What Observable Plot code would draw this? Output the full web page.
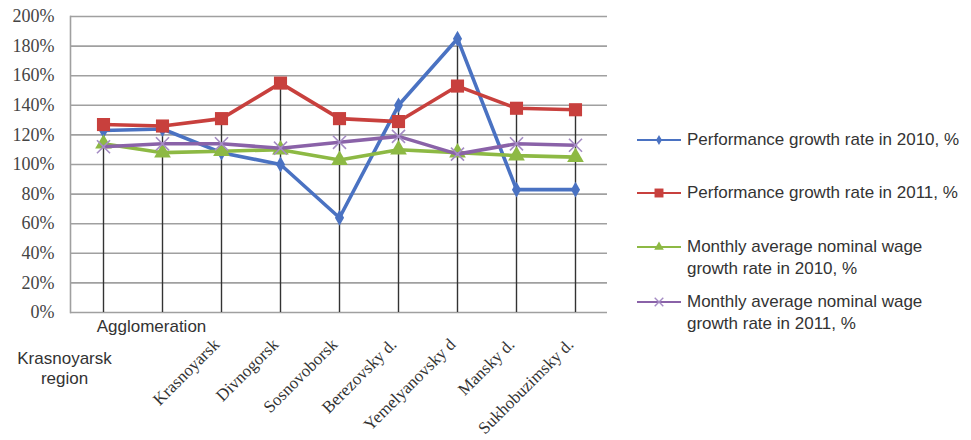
<!DOCTYPE html>
<html><head><meta charset="utf-8">
<script src="https://cdn.jsdelivr.net/npm/d3@7"></script>
<script src="https://cdn.jsdelivr.net/npm/@observablehq/plot@0.6"></script>
<style>
body{margin:0;background:#fff;}
#wrap{position:relative;width:971px;height:440px;overflow:hidden;}
#chart{position:absolute;left:0;top:0;}
#legend{position:absolute;left:0;top:0;width:971px;height:440px;font-family:"Liberation Sans",Arial,sans-serif;font-size:17px;color:#333;}
.item{position:absolute;left:635px;display:flex;align-items:flex-start;white-space:nowrap;line-height:22px;}
.item svg{flex:none;margin-right:6px;}
</style></head><body>
<div id="wrap"><div id="chart"></div><div id="legend"></div></div>
<script>
const categories = ["Krasnoyarsk region","Agglomeration","Krasnoyarsk","Divnogorsk","Sosnovoborsk","Berezovsky d.","Yemelyanovsky d","Mansky d.","Sukhobuzimsky d."];
const perf2010 = [123,124,108,100,64,140,185,83,83];
const perf2011 = [127,126,131,155,131,129,153,138,137];
const wage2010 = [114,108,109,110,103,110,108,106,105];
const wage2011 = [112,114,114,111,115,119,107,114,113];
const yTicks = [0,20,40,60,80,100,120,140,160,180,200];
const seriesNames = ["Performance growth rate in 2010, %","Performance growth rate in 2011, %","Monthly average nominal wage\ngrowth rate in 2010, %","Monthly average nominal wage\ngrowth rate in 2011, %"];
const seriesColors = ["#4A72C2","#C8403D","#8DB944","#8A62A8"];
const markerColors = ["#4A72C2","#C8403D","#8DB944","#A58CC4"];
const symbols = ["diamond","square","triangle","times"];
const symbolR = [4.8,7.4,6.2,6];

const allSeries = [perf2010, perf2011, wage2010, wage2011];
const rows = [];
allSeries.forEach((vals, s) => vals.forEach((v, i) => rows.push({cat: categories[i], value: v, s})));
const maxRows = categories.map((c, i) => ({cat: c, value: d3.max(allSeries, a => a[i])}));

const serifFont = "'Liberation Serif','Times New Roman',serif";
const sansFont = "'Liberation Sans',Arial,sans-serif";

const marks = [
  Plot.ruleY(yTicks, {y: d => d, stroke: "#a0a0a0", strokeWidth: 1.6}),
  Plot.frame({anchor: "left", stroke: "#a0a0a0", strokeWidth: 1.6}),
  Plot.ruleX(maxRows, {x: "cat", y1: 0, y2: "value", stroke: "#333", strokeWidth: 1.4}),
  Plot.text(yTicks, {y: d => d, frameAnchor: "left", dx: -16, textAnchor: "end", text: d => d + "%", fontFamily: serifFont, fontSize: 18, fill: "#444"})
];
allSeries.forEach((vals, s) => {
  const data = rows.filter(r => r.s === s);
  marks.push(Plot.line(data, {x: "cat", y: "value", stroke: seriesColors[s], strokeWidth: 3.6}));
  if (symbols[s] === "times") {
    marks.push(Plot.dot(data, {x: "cat", y: "value", symbol: "times", r: symbolR[s], stroke: markerColors[s], strokeWidth: 1.6}));
  } else {
    marks.push(Plot.dot(data, {x: "cat", y: "value", symbol: symbols[s], r: symbolR[s], fill: markerColors[s], stroke: "none"}));
  }
});
// category labels
marks.push(Plot.text([categories[1]], {x: d => d, frameAnchor: "bottom", dy: 14, dx: -11, text: d => d, fontFamily: sansFont, fontSize: 17, fill: "#333", lineAnchor: "middle"}));
marks.push(Plot.text([categories[0]], {x: d => d, frameAnchor: "bottom", dy: 55, dx: -39, text: d => d.replace(" ", "\n"), fontFamily: sansFont, fontSize: 17, fill: "#333", lineAnchor: "middle", lineHeight: 1.15}));
marks.push(Plot.text(categories.slice(2), {x: d => d, frameAnchor: "bottom", dy: 33, dx: -1, text: d => d, rotate: -45, textAnchor: "end", fontFamily: serifFont, fontSize: 17, fill: "#333"}));

const chart = Plot.plot({
  width: 620, height: 440,
  marginLeft: 70, marginRight: 13, marginTop: 16, marginBottom: 128,
  x: {type: "point", domain: categories, padding: 0.5, axis: null},
  y: {domain: [0, 200], axis: null},
  style: {background: "#fff", overflow: "visible"},
  marks
});
document.getElementById("chart").appendChild(chart);

// legend
const legend = document.getElementById("legend");
const tops = [129, 182, 236, 291];
seriesNames.forEach((name, s) => {
  const item = document.createElement("div");
  item.className = "item";
  item.style.top = tops[s] + "px";
  const sw = d3.create("svg").attr("width", 46).attr("height", 22);
  sw.append("line").attr("x1", 2).attr("x2", 46).attr("y1", 11).attr("y2", 11).attr("stroke", seriesColors[s]).attr("stroke-width", 2.2);
  const sym = {diamond: d3.symbolDiamond, square: d3.symbolSquare, triangle: d3.symbolTriangle, times: d3.symbolTimes}[symbols[s]];
  const size = {diamond: 30, square: 80, triangle: 40, times: 50}[symbols[s]];
  const p = sw.append("path").attr("d", d3.symbol(sym, size)()).attr("transform", "translate(24,11)");
  if (symbols[s] === "times") p.attr("fill", "none").attr("stroke", markerColors[s]).attr("stroke-width", 1.4);
  else p.attr("fill", markerColors[s]);
  item.appendChild(sw.node());
  const t = document.createElement("div");
  t.innerHTML = name.replace("\n", "<br>");
  item.appendChild(t);
  legend.appendChild(item);
});
</script>
</body></html>
